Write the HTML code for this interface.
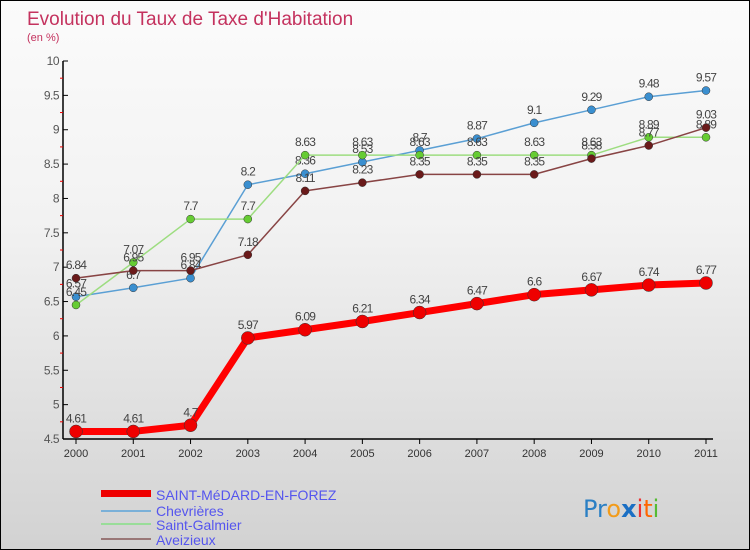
<!DOCTYPE html>
<html><head><meta charset="utf-8"><style>
body{margin:0}
#c{width:750px;height:550px;position:relative;box-sizing:border-box;border:1px solid #000;background:linear-gradient(#fbfbfb,#f2f2f2 40%,#d2d2d2 100%);overflow:hidden;font-family:"Liberation Sans",sans-serif}
svg{position:absolute;left:0;top:0}
</style></head><body>
<div id="c">
<svg id="s" width="750" height="550">
<text x="26" y="24" font-size="19" fill="#c4325e">Evolution du Taux de Taxe d'Habitation</text>
<text x="26" y="40" font-size="11" fill="#c4325e">(en %)</text>
<g id="lg">
<rect x="100" y="489" width="50" height="7" fill="#e00"/>
<text x="155" y="499" font-size="14" fill="#55e">SAINT-MéDARD-EN-FOREZ</text>
<rect x="100" y="509" width="50" height="2" fill="#7ab0d8"/>
<text x="155" y="515" font-size="14" fill="#55e">Chevrières</text>
<rect x="100" y="522" width="50" height="2" fill="#9d9"/>
<text x="155" y="529" font-size="14" fill="#55e">Saint-Galmier</text>
<rect x="100" y="537" width="50" height="2" fill="#977"/>
<text x="155" y="544" font-size="14" fill="#55e">Aveizieux</text>
</g>
<text x="582" y="516" font-size="24" font-family="DejaVu Sans"><tspan fill="#2a7fc4">Pr</tspan><tspan fill="#f29b1a">o</tspan><tspan fill="#1a6fc4" font-weight="bold">x</tspan><tspan fill="#e33">i</tspan><tspan fill="#f60">t</tspan><tspan fill="#5b3">i</tspan></text>
</svg>
</div>
<script>
const years=[2000,2001,2002,2003,2004,2005,2006,2007,2008,2009,2010,2011];
const yTicks=[4.5,5,5.5,6,6.5,7,7.5,8,8.5,9,9.5,10];
const smValues=[4.61,4.61,4.7,5.97,6.09,6.21,6.34,6.47,6.6,6.67,6.74,6.77];
const chevValues=[6.57,6.7,6.84,8.2,8.36,8.53,8.7,8.87,9.1,9.29,9.48,9.57];
const sgValues=[6.45,7.07,7.7,7.7,8.63,8.63,8.63,8.63,8.63,8.63,8.89,8.89];
const avValues=[6.84,6.95,6.95,7.18,8.11,8.23,8.35,8.35,8.35,8.58,8.77,9.03];
const NS='http://www.w3.org/2000/svg';
const s=document.getElementById('s');
const X=i=>75+i*(705-75)/(years.length-1);
const Y=v=>438-(v-4.5)*(438-60)/5.5;
function el(t,a,p){const e=document.createElementNS(NS,t);for(const k in a)e.setAttribute(k,a[k]);(p||s).appendChild(e);return e;}
const ax=el('g',{});


const ya=el('line',{x1:62,y1:60,x2:62,y2:438,stroke:'#000','stroke-width':1.5},ax);


const xa=el('line',{x1:62,y1:438,x2:712,y2:438,stroke:'#000','stroke-width':1.5},ax);


yTicks.forEach((v,i)=>{
 el('line',{x1:62,y1:Y(v),x2:67,y2:Y(v),stroke:'#000'},ax);
 if(i<yTicks.length-1) el('line',{x1:59,y1:Y(v+0.25),x2:62,y2:Y(v+0.25),stroke:'#e00'},ax);
 const t=el('text',{x:58,y:Y(v)+4,'font-size':12,fill:'#555','text-anchor':'end','letter-spacing':'-0.5'},ax);
 t.textContent=String(v);
 
 
});
years.forEach((y,i)=>{
 el('line',{x1:X(i),y1:438,x2:X(i),y2:443,stroke:'#000'},ax);
 const t=el('text',{x:X(i),y:456,'font-size':11,fill:'#333','text-anchor':'middle'},ax);
 t.textContent=y;
 
 
});
function series(name,vals,color,dot,w,r,fs){
 const g=el('g',{});
 
 
 const p=el('polyline',{points:vals.map((v,i)=>X(i)+','+Y(v)).join(' '),fill:'none',stroke:color,'stroke-width':w,'stroke-linejoin':'round'},g);
 
 
 vals.forEach((v,i)=>{
  const c=el('circle',{cx:X(i),cy:Y(v),r:r,fill:dot,stroke:'#333','stroke-width':0.5},g);
  
  
  const t=el('text',{x:X(i),y:Y(v)-9,'font-size':fs,fill:'#444','text-anchor':'middle','letter-spacing':'-0.8'},g);
  t.textContent=String(v);
  
  
 });
}
series('chevrieres',chevValues,'#5a9fd4','#3a8fd0',1.5,4,12);
series('saint-galmier',sgValues,'#9ddd80','#6c3',1.5,4,12);
series('aveizieux',avValues,'#844','#6a1a1a',1.5,4,12);
series('saint-medard',smValues,'#f00','#e00',7,6.5,12);
</script>
</body></html>
